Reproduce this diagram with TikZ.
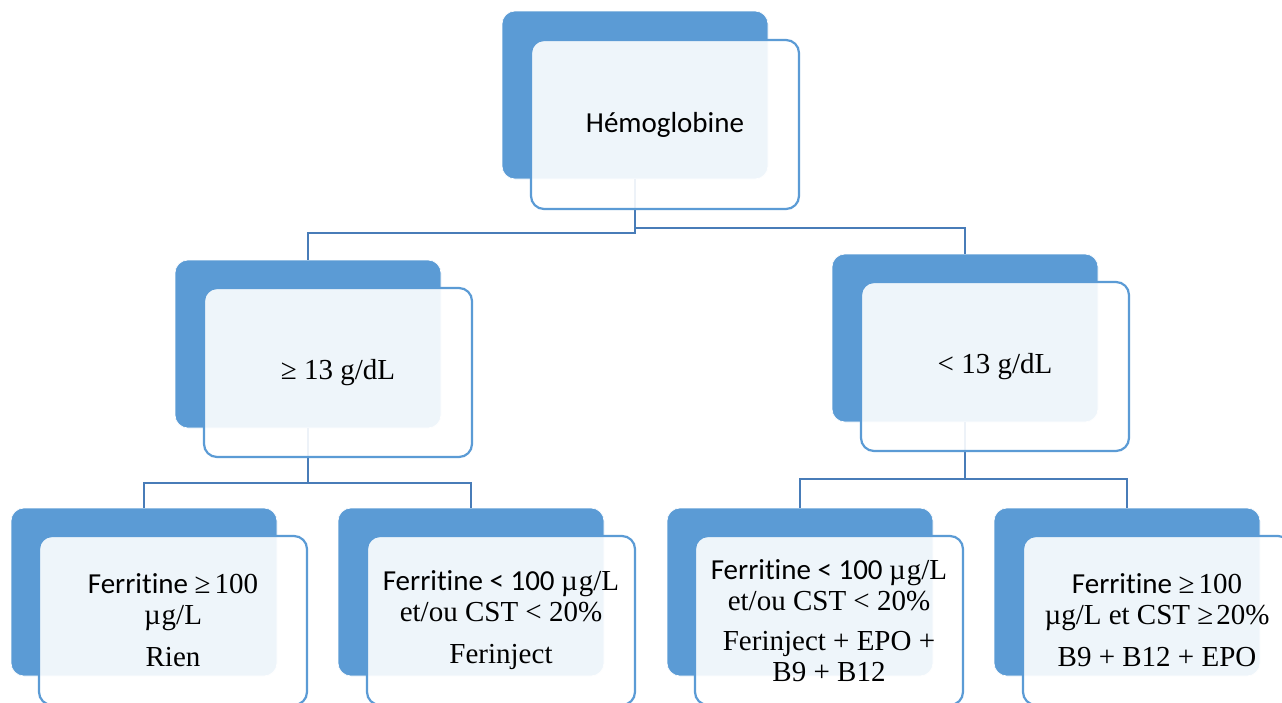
\documentclass[tikz,border=0pt]{standalone}
\usepackage{fontspec}
\setmainfont{Liberation Serif}
\newfontfamily\calfont[Ligatures={NoCommon,NoContextual}]{Carlito}
\definecolor{bkblue}{RGB}{91,155,213}
\definecolor{lineblue}{RGB}{72,124,184}
\begin{document}
\begin{tikzpicture}[x=1pt,y=-1pt,
  backbox/.style={fill=bkblue, draw=white, line width=0.6pt, rounded corners=13pt,
    minimum width=266pt, minimum height=168pt, inner sep=0pt, outer sep=0pt, anchor=north west},
  frontbox/.style={fill=white, fill opacity=0.9, draw=bkblue, draw opacity=1, line width=2.2pt,
    rounded corners=13pt, minimum width=268pt, minimum height=169pt, inner sep=0pt,
    outer sep=0pt, anchor=north west},
  conn/.style={draw=lineblue, line width=2.8pt},
  lbl/.style={align=center, font=\fontsize{29}{31}\selectfont, text=black, inner sep=0pt}]
\clip (0,0) rectangle (1282,702);
\fill[white] (0,0) rectangle (1282,702);
% back boxes
\node[backbox] (b1) at (502,11) {};
\node[backbox] (b2) at (175,260) {};
\node[backbox] (b3) at (832,254) {};
\node[backbox] (b4) at (11,508) {};
\node[backbox] (b5) at (338,508) {};
\node[backbox] (b6) at (667,508) {};
\node[backbox] (b7) at (994,508) {};
% connectors
\draw[conn] (b1.south) -- ++(0,54) -| (b2.north);
\draw[conn] (b1.south) -- ++(0,49) -| (b3.north);
\draw[conn] (b2.south) -- ++(0,55) -| (b4.north);
\draw[conn] (b2.south) -- ++(0,55) -| (b5.north);
\draw[conn] (b3.south) -- ++(0,57) -| (b6.north);
\draw[conn] (b3.south) -- ++(0,57) -| (b7.north);
% front boxes
\node[frontbox] (f1) at (531,40) {};
\node[frontbox] (f2) at (204,288) {};
\node[frontbox] (f3) at (861,282) {};
\node[frontbox] (f4) at (39,536) {};
\node[frontbox] (f5) at (367,536) {};
\node[frontbox] (f6) at (695,536) {};
\node[frontbox] (f7) at (1023,536) {};
% texts
\node[lbl] (t1) at (f1.center) {{\calfont Hémoglobine}};
\node[lbl] (t2) at (f2.center) {≥ 13 g/dL};
\node[lbl] (t3) at (f3.center) {< 13 g/dL};
\node[lbl] (t4) at (f4.center) {{\calfont Ferritine }≥\kern4pt 100\\ µ\kern1pt g/L\\[11pt] Rien};
\node[lbl] (t5) at (f5.center) {{\calfont Ferritine < 100 }µ\kern1pt g/L\\ et/ou CST < 20\%\\[11pt] Ferinject};
\node[lbl] (t6) at (f6.center) {{\calfont Ferritine < 100 }µ\kern1pt g/L\\ et/ou CST < 20\%\\[9pt] Ferinject + EPO +\\ B9 + B12};
\node[lbl] (t7) at (f7.center) {{\calfont Ferritine }≥\kern4pt 100\\ µg/L et CST ≥\kern3pt 20\%\\[11pt] B9 + B12 + EPO};
\end{tikzpicture}
\end{document}
